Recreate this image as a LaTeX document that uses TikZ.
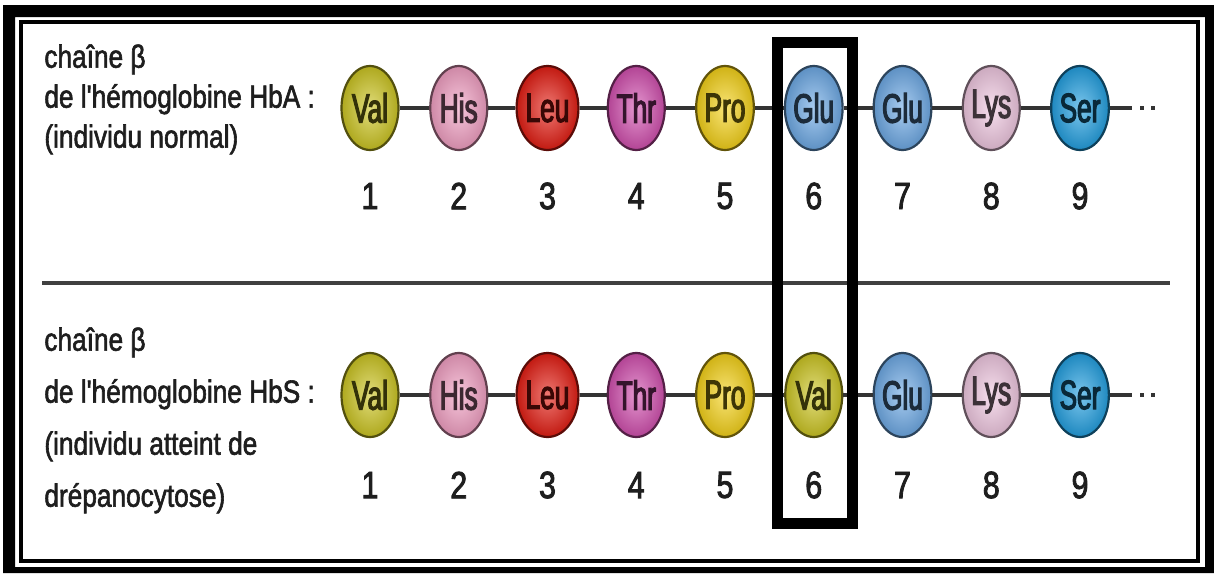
\documentclass[tikz,border=0pt]{standalone}
\usepackage{fontspec}
\setmainfont{Liberation Sans}
\newfontfamily\lblfont[FakeStretch=0.82,FakeBold=1.8]{Liberation Sans}
\newfontfamily\numfont[FakeStretch=0.8,FakeBold=2.2]{Liberation Sans}
\newfontfamily\aafont[FakeStretch=0.64,FakeBold=2.8]{Liberation Sans}
\usepackage{tikz}
\usetikzlibrary{positioning,shapes.geometric}
\definecolor{ink}{RGB}{30,30,30}
\definecolor{val}{RGB}{205,198,35}
\definecolor{his}{RGB}{242,160,195}
\definecolor{leu}{RGB}{228,30,20}
\definecolor{thr}{RGB}{210,80,175}
\definecolor{pro}{RGB}{245,210,25}
\definecolor{glu}{RGB}{110,170,230}
\definecolor{lys}{RGB}{240,200,225}
\definecolor{ser}{RGB}{35,160,225}
\tikzset{
  aa/.style={ellipse, draw=#1!40!black, line width=1.1pt, minimum width=28.5pt, minimum height=42pt,
    inner sep=0pt, inner color=#1!60!white, outer color=#1!85!black, text=#1!25!black,
    font=\aafont\fontsize{20.5}{22}\selectfont},
  num/.style={text=ink, inner sep=0pt, font=\numfont\fontsize{19}{22}\selectfont},
  lbl/.style={text=ink, inner sep=0pt, align=left, anchor=north west, font=\lblfont\fontsize{16}{20}\selectfont},
  bond/.style={draw=black!80, line width=1.7pt},
  tail/.style={bond, dash pattern=on 0pt off 4pt on 2pt off 3.5pt on 2pt off 10pt},
  hlbox/.style={draw=black, line width=5.5pt}
}
\begin{document}
\begin{tikzpicture}[x=0.5pt, y=-0.5pt, node distance=44.375pt, on grid]
  \useasboundingbox (0,0) rectangle (1214,573);
  % cadre
  \fill[black, even odd rule] (3,5) rectangle (1214,573) (15,17) rectangle (1205,567);
  \draw[line width=2pt] (20.5,22) rectangle (1197.5,561);
  % chaine HbA
  \node[lbl] (ta) at (44,44) {chaîne β\\de l'hémoglobine HbA :\\(individu normal)};
  \node[aa=val] (a1) at (370,108) {Val};
  \node[aa=his, right=of a1] (a2) {His};
  \node[aa=leu, right=of a2] (a3) {Leu};
  \node[aa=thr, right=of a3] (a4) {Thr};
  \node[aa=pro, right=of a4] (a5) {Pro};
  \node[aa=glu, right=of a5] (a6) {Glu};
  \node[aa=glu, right=of a6] (a7) {Glu};
  \node[aa=lys, right=of a7] (a8) {Lys};
  \node[aa=ser, right=of a8] (a9) {Ser};
  \node[num, below=44pt of a1] (na1) {1};
  \node[num, below=44pt of a2] (na2) {2};
  \node[num, below=44pt of a3] (na3) {3};
  \node[num, below=44pt of a4] (na4) {4};
  \node[num, below=44pt of a5] (na5) {5};
  \node[num, below=44pt of a6] (na6) {6};
  \node[num, below=44pt of a7] (na7) {7};
  \node[num, below=44pt of a8] (na8) {8};
  \node[num, below=44pt of a9] (na9) {9};
  \coordinate (ka) at (1132,108);
  \coordinate (la) at (1160,108);
  \draw[bond] (a1) -- (a2) -- (a3) -- (a4) -- (a5) -- (a6) -- (a7) -- (a8) -- (a9) -- (ka);
  \draw[tail] (ka) -- (la);
  % separation
  \draw[line width=2pt, black!75] (42,283) -- (1170,283);
  % chaine HbS
  \node[lbl, font=\lblfont\fontsize{16}{26}\selectfont] (tb) at (44,327)
    {chaîne β\\de l'hémoglobine HbS :\\(individu atteint de\\drépanocytose)};
  \node[aa=val] (b1) at (370,395) {Val};
  \node[aa=his, right=of b1] (b2) {His};
  \node[aa=leu, right=of b2] (b3) {Leu};
  \node[aa=thr, right=of b3] (b4) {Thr};
  \node[aa=pro, right=of b4] (b5) {Pro};
  \node[aa=val, right=of b5] (b6) {Val};
  \node[aa=glu, right=of b6] (b7) {Glu};
  \node[aa=lys, right=of b7] (b8) {Lys};
  \node[aa=ser, right=of b8] (b9) {Ser};
  \node[num, below=45pt of b1] (nb1) {1};
  \node[num, below=45pt of b2] (nb2) {2};
  \node[num, below=45pt of b3] (nb3) {3};
  \node[num, below=45pt of b4] (nb4) {4};
  \node[num, below=45pt of b5] (nb5) {5};
  \node[num, below=45pt of b6] (nb6) {6};
  \node[num, below=45pt of b7] (nb7) {7};
  \node[num, below=45pt of b8] (nb8) {8};
  \node[num, below=45pt of b9] (nb9) {9};
  \coordinate (kb) at (1132,395);
  \coordinate (lb) at (1160,395);
  \draw[bond] (b1) -- (b2) -- (b3) -- (b4) -- (b5) -- (b6) -- (b7) -- (b8) -- (b9) -- (kb);
  \draw[tail] (kb) -- (lb);
  % position 6
  \draw[hlbox] (777.5,42.5) rectangle (852.5,523.5);
\end{tikzpicture}
\end{document}
